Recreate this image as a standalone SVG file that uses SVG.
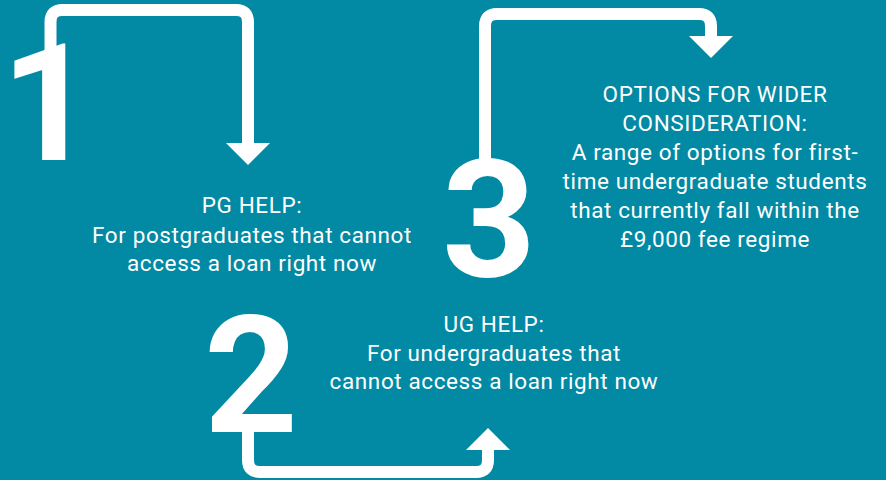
<svg xmlns="http://www.w3.org/2000/svg" width="886" height="480" viewBox="0 0 886 480">
  <style>
    .digit { font-family: Roboto, "Liberation Sans", sans-serif; font-weight: 700; font-size: 164px; fill: #ffffff; }
    .lbl { font-family: Roboto, "Liberation Sans", sans-serif; font-size: 22.5px; letter-spacing: 0.6px; fill: #ffffff; text-anchor: middle; }
    .conn { fill: none; stroke: #ffffff; stroke-width: 12; marker-end: url(#head); }
  </style>
  <defs>
    <marker id="head" viewBox="0 -22 22 44" refX="0" refY="0" markerWidth="22" markerHeight="44" markerUnits="userSpaceOnUse" orient="auto">
      <path d="M0,-22 L22,0 L0,22 Z" fill="#ffffff"/>
    </marker>
  </defs>
  <rect x="0" y="0" width="886" height="480" fill="#0289a3"/>

  <g id="connectors">
    <path class="conn" d="M50.5,60 V22 Q50.5,10 62.5,10 H236 Q248,10 248,22 V143"/>
    <path class="conn" d="M248,420 V460 Q248,472 260,472 H476 Q488,472 488,460 V450"/>
    <path class="conn" d="M485,170 V26 Q485,14 497,14 H699 Q711,14 711,26 V36"/>
  </g>

  <g id="step1">
    <text class="digit" x="1" y="160">1</text>
    <text class="lbl" x="252" y="213">PG HELP:</text>
    <text class="lbl" x="252" y="243">For postgraduates that cannot</text>
    <text class="lbl" x="252" y="271">access a loan right now</text>
  </g>

  <g id="step2">
    <text class="digit" x="204" y="432">2</text>
    <text class="lbl" x="494" y="332">UG HELP:</text>
    <text class="lbl" x="494" y="361">For undergraduates that</text>
    <text class="lbl" x="494" y="389">cannot access a loan right now</text>
  </g>

  <g id="step3">
    <text class="digit" x="442" y="276">3</text>
    <text class="lbl" x="715" y="102">OPTIONS FOR WIDER</text>
    <text class="lbl" x="715" y="131">CONSIDERATION:</text>
    <text class="lbl" x="715" y="160">A range of options for first-</text>
    <text class="lbl" x="715" y="189">time undergraduate students</text>
    <text class="lbl" x="715" y="218">that currently fall within the</text>
    <text class="lbl" x="715" y="247">£9,000 fee regime</text>
  </g>
</svg>
